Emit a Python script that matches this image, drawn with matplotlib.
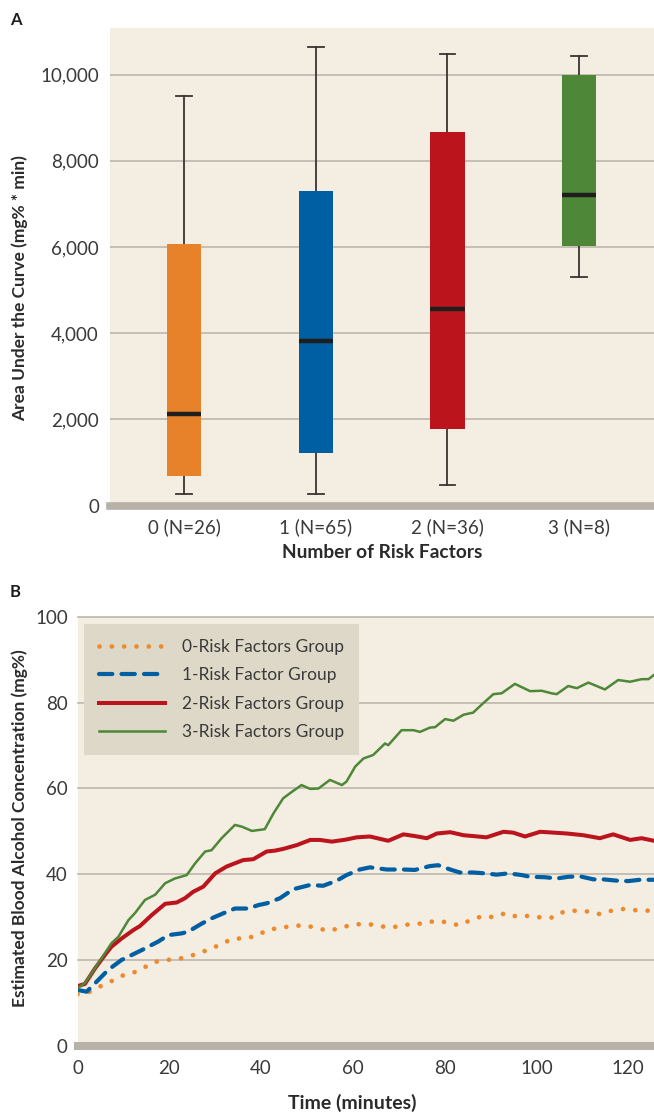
import matplotlib.pyplot as plt
import numpy as np

plt.rcParams['font.family'] = ['Lato', 'DejaVu Sans']

# panel A: box plot stats
groups = ['0 (N=26)', '1 (N=65)', '2 (N=36)', '3 (N=8)']
whislo = [270, 270, 490, 5300]
q1 = [700, 1230, 1790, 6030]
med = [2135, 3815, 4560, 7200]
q3 = [6075, 7300, 8670, 10000]
whishi = [9500, 10630, 10470, 10430]
box_colors = ['#E8822A', '#005EA2', '#BB141D', '#4E8737']
a_ticks = [0, 2000, 4000, 6000, 8000, 10000]

# panel B: estimated BAC curves
t0 = [0, 2.5, 4.9, 7.3, 9.6, 11.9, 14.3, 16.7, 19.2, 21.8, 24.3, 26.7, 29.1, 31.6, 34.0, 36.6,
      39.1, 41.4, 44.1, 46.8, 49.4, 52.0, 54.6, 57.1, 59.7, 62.2, 64.8, 67.4, 70.0, 72.6, 75.3,
      77.9, 80.5, 83.0, 85.5, 88.1, 90.6, 93.2, 95.7, 98.4, 101.0, 103.6, 106.0, 108.6, 111.2,
      113.8, 116.4, 119.0, 121.7, 124.3, 125.6]
v0 = [12.0, 12.5, 13.8, 15.0, 16.3, 16.9, 18.1, 19.5, 20.0, 20.2, 20.8, 21.7, 22.6, 23.9, 25.0,
      25.0, 25.7, 27.0, 27.5, 27.9, 28.1, 27.5, 26.8, 27.4, 28.2, 28.4, 28.2, 27.6, 27.8, 28.4,
      28.5, 29.1, 28.8, 28.1, 29.2, 30.2, 30.0, 30.9, 30.1, 30.3, 29.9, 29.9, 31.3, 31.5, 31.3,
      30.7, 31.5, 31.9, 31.6, 31.5, 31.5]

t1 = [0, 2.0, 4.5, 6.7, 9.6, 14.0, 17.6, 19.8, 22.7, 24.1, 27.1, 29.2, 31.8, 34.3, 37.2, 39.4,
      41.2, 44.1, 47.0, 50.7, 53.5, 56.5, 58.6, 61.5, 63.7, 67.4, 71.0, 73.5, 76.8, 78.6, 81.2,
      83.3, 86.2, 88.8, 91.3, 93.9, 96.8, 98.6, 101.9, 104.4, 106.9, 109.5, 112.4, 114.6, 117.5,
      120.0, 122.5, 125.6]
v1 = [13.0, 12.6, 15.3, 17.7, 20.0, 22.3, 24.3, 25.8, 26.2, 26.6, 28.5, 29.7, 30.9, 32.0, 32.0,
      32.8, 33.2, 34.4, 36.5, 37.5, 37.3, 38.5, 39.8, 41.1, 41.6, 41.1, 41.1, 41.0, 41.9, 42.1,
      41.1, 40.4, 40.4, 40.2, 39.9, 40.2, 39.8, 39.4, 39.3, 39.0, 39.4, 39.5, 38.8, 38.8, 38.5,
      38.4, 38.7, 38.7]

t2 = [0, 1.6, 3.8, 6.0, 7.4, 9.6, 12.2, 13.6, 16.2, 19.1, 21.6, 23.4, 25.2, 27.4, 30.0, 32.5,
      36.1, 38.3, 41.2, 43.0, 44.8, 47.8, 50.7, 52.8, 55.4, 58.6, 60.8, 63.7, 67.7, 71.0, 73.5,
      76.1, 78.3, 81.2, 84.1, 86.2, 89.1, 92.8, 94.9, 97.5, 100.8, 103.7, 106.6, 110.2, 113.8,
      116.7, 120.4, 122.9, 125.6]
v2 = [13.9, 14.4, 18.0, 21.2, 23.1, 25.0, 27.0, 27.9, 30.5, 33.1, 33.4, 34.4, 35.9, 37.1, 40.2,
      41.8, 43.3, 43.5, 45.3, 45.5, 45.9, 46.8, 48.0, 48.0, 47.6, 48.1, 48.6, 48.8, 47.8, 49.3,
      48.9, 48.4, 49.5, 49.8, 49.1, 48.9, 48.6, 49.9, 49.7, 48.8, 49.9, 49.7, 49.5, 49.1, 48.4,
      49.3, 48.0, 48.4, 47.8]

t3 = [0, 1.6, 3.1, 4.5, 7.4, 8.9, 11.1, 12.5, 14.7, 16.9, 19.1, 21.2, 23.8, 25.6, 27.8, 29.2,
      31.4, 34.3, 35.8, 38.0, 40.8, 42.7, 44.8, 46.3, 48.8, 50.7, 52.5, 55.0, 57.6, 58.6, 60.5,
      62.3, 64.4, 67.0, 67.7, 70.6, 73.2, 74.6, 76.8, 77.9, 80.1, 81.9, 84.1, 86.2, 88.4, 90.6,
      92.4, 95.3, 98.6, 101.1, 103.3, 104.4, 106.9, 108.8, 111.3, 114.9, 117.8, 120.4, 122.9,
      124.4, 125.6]
v3 = [13.4, 14.6, 16.9, 19.2, 23.9, 25.4, 29.3, 30.9, 34.0, 35.2, 37.9, 39.0, 39.8, 42.5, 45.3,
      45.6, 48.4, 51.5, 51.1, 50.1, 50.5, 54.2, 57.7, 58.9, 60.8, 59.9, 60.0, 62.0, 60.8, 61.6,
      65.1, 67.0, 67.8, 70.5, 70.1, 73.6, 73.6, 73.2, 74.2, 74.3, 76.2, 75.8, 77.2, 77.7, 79.9,
      82.0, 82.2, 84.4, 82.7, 82.8, 82.2, 82.0, 83.9, 83.4, 84.7, 83.1, 85.3, 84.9, 85.5, 85.5,
      86.5]
line_labels = ['0-Risk Factors Group', '1-Risk Factor Group', '2-Risk Factors Group',
               '3-Risk Factors Group']
b_ticks = [0, 20, 40, 60, 80, 100]
b_xticks = [0, 20, 40, 60, 80, 100, 120]

bg = '#F4EDE1'
grid_c = '#BDB6AE'
bar_c = '#B8B1AA'
txt = '#3A3A3A'

W, H = 654, 1113
fig = plt.figure(figsize=(W / 100, H / 100), dpi=100)

def frac(x0, y0, x1, y1):
    return [x0 / W, 1 - y1 / H, (x1 - x0) / W, (y1 - y0) / H]

# ---- panel A
ax = fig.add_axes(frac(110, 28, 654, 505.7))
ax.set_facecolor(bg)
stats = []
for i in range(4):
    stats.append(dict(whislo=whislo[i], q1=q1[i], med=med[i], q3=q3[i], whishi=whishi[i]))
bp = ax.bxp(stats, positions=range(4), widths=0.26, capwidths=0.12, showfliers=False,
            patch_artist=True,
            whiskerprops=dict(color='#3a3431', lw=1.3),
            capprops=dict(color='#3a3431', lw=1.3),
            medianprops=dict(color='#1e1e1e', lw=3.2, solid_capstyle='butt'),
            boxprops=dict(lw=0))
for patch, c in zip(bp['boxes'], box_colors):
    patch.set_facecolor(c)
    patch.set_zorder(3)
for m in bp['medians']:
    m.set_zorder(4)
ax.set_xlim(-0.565, 3.57)
ax.set_ylim(0, 11080)
ax.set_yticks(a_ticks)
ax.set_yticklabels(['{:,}'.format(v) for v in a_ticks])
ax.set_xticks(range(4))
ax.set_xticklabels(groups)
for y in a_ticks[1:]:
    ax.axhline(y, color=grid_c, lw=1.2, zorder=1)
ax.axhline(0, color=bar_c, lw=5.5, zorder=2, clip_on=False)
for s in ax.spines.values():
    s.set_visible(False)
ax.tick_params(length=0, labelsize=13.5, labelcolor=txt)
ax.tick_params(axis='y', pad=8)
ax.tick_params(axis='x', pad=9)

fig.text(382 / W, 1 - 553 / H, 'Number of Risk Factors', ha='center', va='center',
         fontsize=13.8, fontweight='bold', color='#2a2a2a')
fig.text(20 / W, 1 - 288 / H, 'Area Under the Curve (mg% * min)', ha='center', va='center',
         rotation=90, fontsize=12.5, fontweight='bold', color='#2a2a2a')
fig.text(10 / W, 1 - 20 / H, 'A', ha='left', va='center', fontsize=12,
         fontweight='bold', color='#1e1e1e')

# ---- panel B
bx = fig.add_axes(frac(77.5, 617, 654, 1045.7))
bx.set_facecolor(bg)
for y in b_ticks[1:]:
    bx.axhline(y, color=grid_c, lw=1.2, zorder=1, clip_on=False)
bx.axhline(0, color=bar_c, lw=5.8, zorder=2, clip_on=False)
bx.plot(t0, v0, color='#EE8A2E', lw=3.4, linestyle=(0, (0.01, 2.6)),
        dash_capstyle='round', label=line_labels[0], zorder=3)
bx.plot(t1, v1, color='#005EA2', lw=3.0, linestyle=(0, (3.2, 2.2)),
        dash_capstyle='round', label=line_labels[1], zorder=3)
bx.plot(t2, v2, color='#BB141D', lw=2.9, label=line_labels[2], zorder=3)
bx.plot(t3, v3, color='#4E8737', lw=1.8, label=line_labels[3], zorder=3)
bx.set_xlim(0, 125.6)
bx.set_ylim(0, 100)
bx.set_yticks(b_ticks)
bx.set_xticks(b_xticks)
for s in bx.spines.values():
    s.set_visible(False)
bx.tick_params(length=0, labelsize=13.5, labelcolor=txt)
bx.tick_params(axis='y', pad=7)
bx.tick_params(axis='x', pad=10)
leg = bx.legend(loc='upper left', bbox_to_anchor=(6.5 / 576.5, 1 - 7 / 428.7),
                frameon=True, fancybox=False, facecolor='#DDD8C7', edgecolor='none',
                framealpha=1, fontsize=12.5, handlelength=3.8, handletextpad=1.0,
                labelspacing=0.72, borderpad=0.85, borderaxespad=0)
for t in leg.get_texts():
    t.set_color(txt)

fig.text(352 / W, 1 - 1103 / H, 'Time (minutes)', ha='center', va='center',
         fontsize=14, fontweight='bold', color='#2a2a2a')
fig.text(20 / W, 1 - 828 / H, 'Estimated Blood Alcohol Concentration (mg%)', ha='center',
         va='center', rotation=90, fontsize=12.5, fontweight='bold', color='#2a2a2a')
fig.text(10 / W, 1 - 592 / H, 'B', ha='left', va='center', fontsize=12,
         fontweight='bold', color='#1e1e1e')

fig.savefig('out.png', dpi=100, facecolor='white')
